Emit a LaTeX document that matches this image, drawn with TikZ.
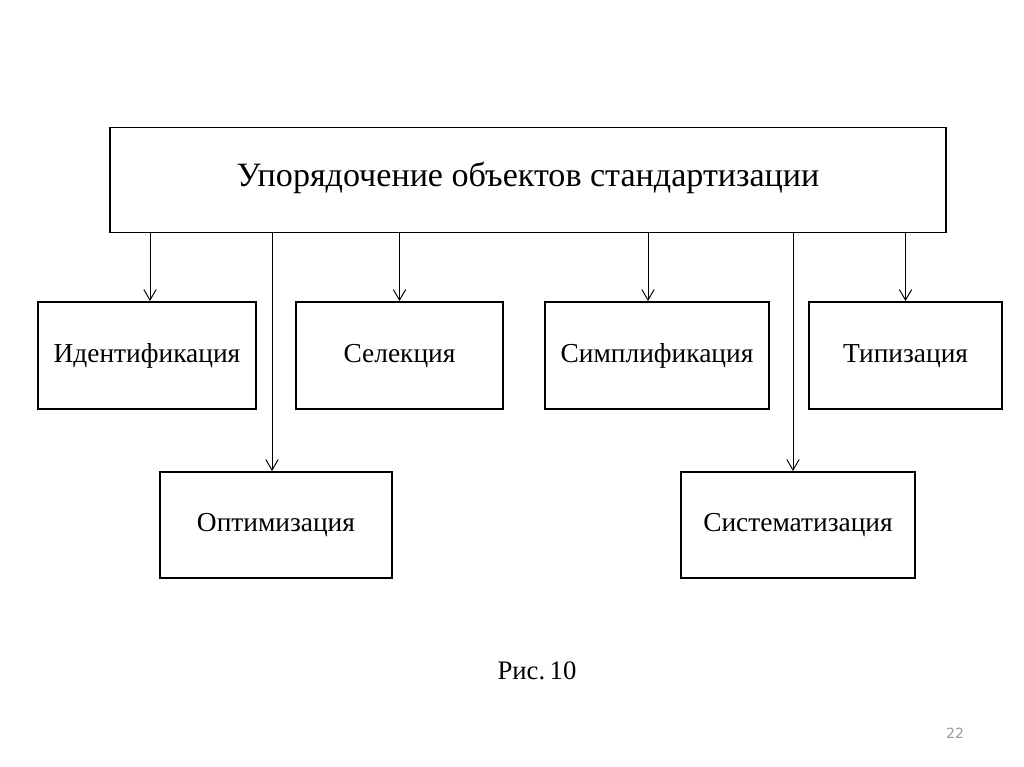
\documentclass[tikz,border=0pt]{standalone}
\usepackage{fontspec}
\setmainfont{Liberation Serif}
\newfontfamily\numfont{DejaVu Sans}
\usetikzlibrary{arrows.meta}
\usetikzlibrary{calc}

\begin{document}
\begin{tikzpicture}[x=0.02cm,y=-0.02cm,
        box/.style={draw,line width=1.1pt,inner sep=0pt,text height=0.8em,text depth=0.05em},
        lbl/.style={font=\fontsize{15.6}{18}\selectfont},
        arr/.style={line width=0.55pt,-{Straight Barb[length=6pt,width=7pt]}}]
        \useasboundingbox[fill=white] (0,0) rectangle (1024,767);
        % top box
        \node[box,minimum width=16.72cm,minimum height=2.1cm,font=\fontsize{19.4}{22}\selectfont] (top) at (528,180) {Упорядочение объектов стандартизации};
        % first row
        \node[box,lbl,minimum width=4.36cm,minimum height=2.14cm] (iden) at (147,355.5) {Идентификация};
        \node[box,lbl,minimum width=4.14cm,minimum height=2.14cm] (sel) at (399.5,355.5) {Селекция};
        \node[box,lbl,minimum width=4.48cm,minimum height=2.14cm] (simp) at (657,355.5) {Симплификация};
        \node[box,lbl,minimum width=3.86cm,minimum height=2.14cm] (tip) at (905.5,355.5) {Типизация};
        % second row
        \node[box,lbl,minimum width=4.64cm,minimum height=2.12cm] (opt) at (276,525) {Оптимизация};
        \node[box,lbl,minimum width=4.68cm,minimum height=2.12cm] (sist) at (798,525) {Систематизация};
        % arrows
        \draw[arr] (top.south -| 150,0) -- ($(iden.north)+(3,0)$);
        \draw[arr] (top.south -| 272,0) -- ($(opt.north)+(-4,0)$);
        \draw[arr] (top.south -| sel.north) -- (sel.north);
        \draw[arr] (top.south -| 648,0) -- ($(simp.north)+(-9,0)$);
        \draw[arr] (top.south -| 793,0) -- ($(sist.north)+(-5,0)$);
        \draw[arr] (top.south -| tip.north) -- (tip.north);
        \node[font=\fontsize{15.2}{18}\selectfont] (cap) at (537,671) {Рис.\,10};
        \node[font=\numfont\fontsize{8}{10}\selectfont,text=black!40] (page) at (955,733) {22};
\end{tikzpicture}
\end{document}
